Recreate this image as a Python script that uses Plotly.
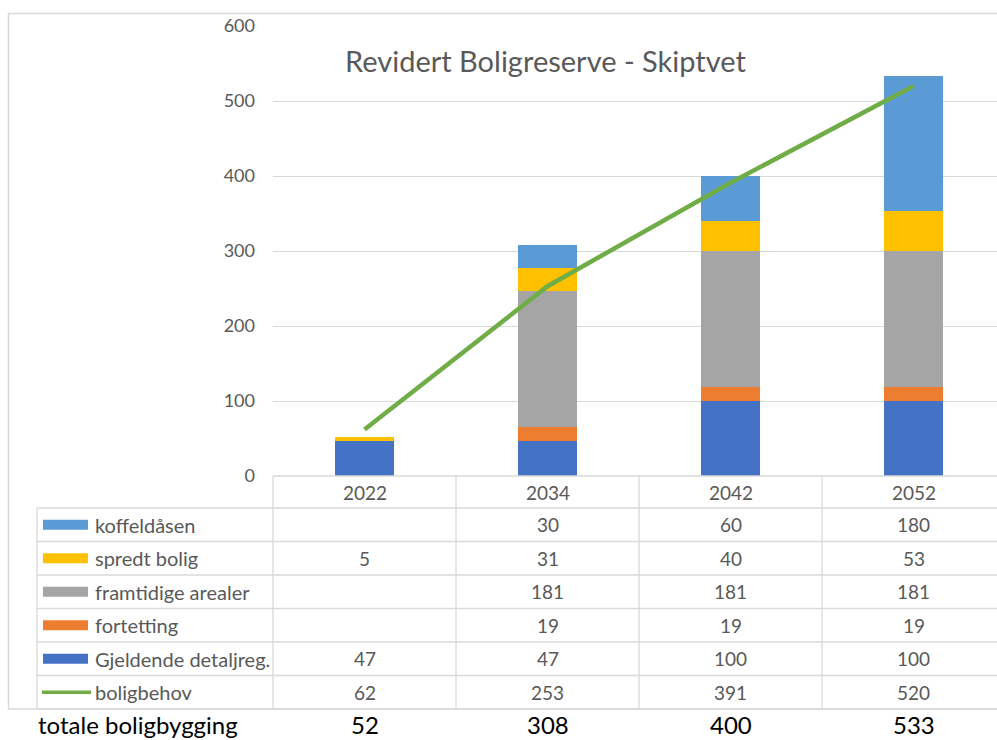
import plotly.graph_objects as go

# ---- data -------------------------------------------------------------
years = ["2022", "2034", "2042", "2052"]
gjeldende = [47, 47, 100, 100]          # Gjeldende detaljreg.
fortetting = [None, 19, 19, 19]
framtidige = [None, 181, 181, 181]      # framtidige arealer
spredt = [5, 31, 40, 53]                # spredt bolig
koffeldasen = [None, 30, 60, 180]
boligbehov = [62, 253, 391, 520]
totale = [52, 308, 400, 533]            # totale boligbygging

# ---- styling ----------------------------------------------------------
C_GJ, C_FO, C_FR, C_SP, C_KO, C_BB = "#4472C4", "#ED7D31", "#A5A5A5", "#FFC000", "#5B9BD5", "#70AD47"
GRID = "#D9D9D9"
TXT = "#595959"
FONT = "Lato"
FS_TICK, FS_CELL, FS_KEY, FS_TITLE, FS_TOTAL = 18, 19, 20, 29, 24

W, H = 997, 740
L, T, B = 273, 26, 264          # plot area in pixels: x 273..997, y 26..476
XR = [-0.5, 3.456]
YR = [0, 600]
PW, PH = W - L, H - T - B


def fx(p):
    """pixel x -> paper x"""
    return (p - L) / PW


def fy(p):
    """pixel y -> paper y"""
    return (H - B - p) / PH


def data_px(x):
    """data x -> pixel x"""
    return L + (x - XR[0]) / (XR[1] - XR[0]) * PW


xs = list(range(len(years)))

fig = go.Figure()
for name, vals, col in [
    ("Gjeldende detaljreg.", gjeldende, C_GJ),
    ("fortetting", fortetting, C_FO),
    ("framtidige arealer", framtidige, C_FR),
    ("spredt bolig", spredt, C_SP),
    ("koffeldåsen", koffeldasen, C_KO),
]:
    fig.add_trace(go.Bar(x=xs, y=vals, name=name, marker=dict(color=col, line=dict(width=0)), width=0.32))

fig.add_trace(go.Scatter(x=xs, y=boligbehov, name="boligbehov", mode="lines",
                         line=dict(color=C_BB, width=4.5)))

shapes = []
annotations = []

def hline(y, x0, x1, color=GRID, w=1.3):
    shapes.append(dict(type="line", xref="paper", yref="paper", x0=fx(x0), x1=fx(x1), y0=fy(y), y1=fy(y),
                       line=dict(color=color, width=w)))

def vline(x, y0, y1, color=GRID, w=1.3):
    shapes.append(dict(type="line", xref="paper", yref="paper", x0=fx(x), x1=fx(x), y0=fy(y0), y1=fy(y1),
                       line=dict(color=color, width=w)))

# outer chart frame
shapes.append(dict(type="rect", xref="paper", yref="paper", x0=fx(8.5), x1=fx(1010), y0=fy(13.5), y1=fy(709),
                   line=dict(color=GRID, width=1.5), fillcolor="rgba(0,0,0,0)", layer="below"))

# data table grid
TAB_L = 37
ROW_TOP = 508
ROW_H = (709 - 508) / 6
x_edges = [data_px(i - 0.5) for i in range(len(years) + 1)]
hline(476, x_edges[0], 1010)
for r in range(7):
    hline(ROW_TOP + r * ROW_H, TAB_L, 1010)
vline(TAB_L, ROW_TOP, 709)
for xe in x_edges:
    vline(xe, 476, 709)

# header row with the years
for i, yr in enumerate(years):
    annotations.append(dict(x=i, xref="x", y=fy(492), yref="paper", text=yr, showarrow=False,
                            font=dict(family=FONT, size=FS_CELL, color=TXT), xanchor="center", yanchor="middle"))

rows = [
    ("koffeldåsen", koffeldasen, C_KO, "bar"),
    ("spredt bolig", spredt, C_SP, "bar"),
    ("framtidige arealer", framtidige, C_FR, "bar"),
    ("fortetting", fortetting, C_FO, "bar"),
    ("Gjeldende detaljreg.", gjeldende, C_GJ, "bar"),
    ("boligbehov", boligbehov, C_BB, "line"),
]
for r, (name, vals, col, kind) in enumerate(rows):
    yc = ROW_TOP + (r + 0.5) * ROW_H
    if kind == "bar":
        shapes.append(dict(type="rect", xref="paper", yref="paper", x0=fx(43), x1=fx(88),
                           y0=fy(yc - 5), y1=fy(yc + 5), line=dict(width=0), fillcolor=col))
    else:
        shapes.append(dict(type="line", xref="paper", yref="paper", x0=fx(42), x1=fx(91),
                           y0=fy(yc), y1=fy(yc), line=dict(color=col, width=3.5)))
    annotations.append(dict(x=fx(93), xref="paper", y=fy(yc), yref="paper", text=name, showarrow=False,
                            font=dict(family=FONT, size=FS_KEY, color=TXT), xanchor="left", yanchor="middle"))
    for i, v in enumerate(vals):
        if v is None:
            continue
        annotations.append(dict(x=i, xref="x", y=fy(yc), yref="paper", text=str(v), showarrow=False,
                                font=dict(family=FONT, size=FS_CELL, color=TXT), xanchor="center", yanchor="middle"))

# totals line below the chart frame
annotations.append(dict(x=fx(36), xref="paper", y=fy(724.5), yref="paper", text="totale boligbygging",
                        showarrow=False, font=dict(family=FONT, size=FS_TOTAL, color="#000000"),
                        xanchor="left", yanchor="middle"))
for i, v in enumerate(totale):
    annotations.append(dict(x=i, xref="x", y=fy(724.5), yref="paper", text=str(v), showarrow=False,
                            font=dict(family=FONT, size=FS_TOTAL, color="#000000"), xanchor="center", yanchor="middle"))

# chart title
annotations.append(dict(x=fx(546), xref="paper", y=fy(60), yref="paper", text="Revidert Boligreserve - Skiptvet",
                        showarrow=False, font=dict(family=FONT, size=FS_TITLE, color=TXT),
                        xanchor="center", yanchor="middle"))

fig.update_layout(
    width=W, height=H,
    margin=dict(l=L, r=0, t=T, b=B, pad=0),
    paper_bgcolor="white", plot_bgcolor="white",
    barmode="stack", bargap=0.68,
    showlegend=False,
    shapes=shapes, annotations=annotations,
    xaxis=dict(range=XR, showticklabels=False, showgrid=False, zeroline=False, ticks="", fixedrange=True),
    yaxis=dict(range=YR, dtick=100, showgrid=True, gridcolor=GRID, gridwidth=1.3, zeroline=False,
               ticks="", ticklabelstandoff=17,
               tickfont=dict(family=FONT, size=FS_TICK, color=TXT)),
)

fig.write_html("out.html")
